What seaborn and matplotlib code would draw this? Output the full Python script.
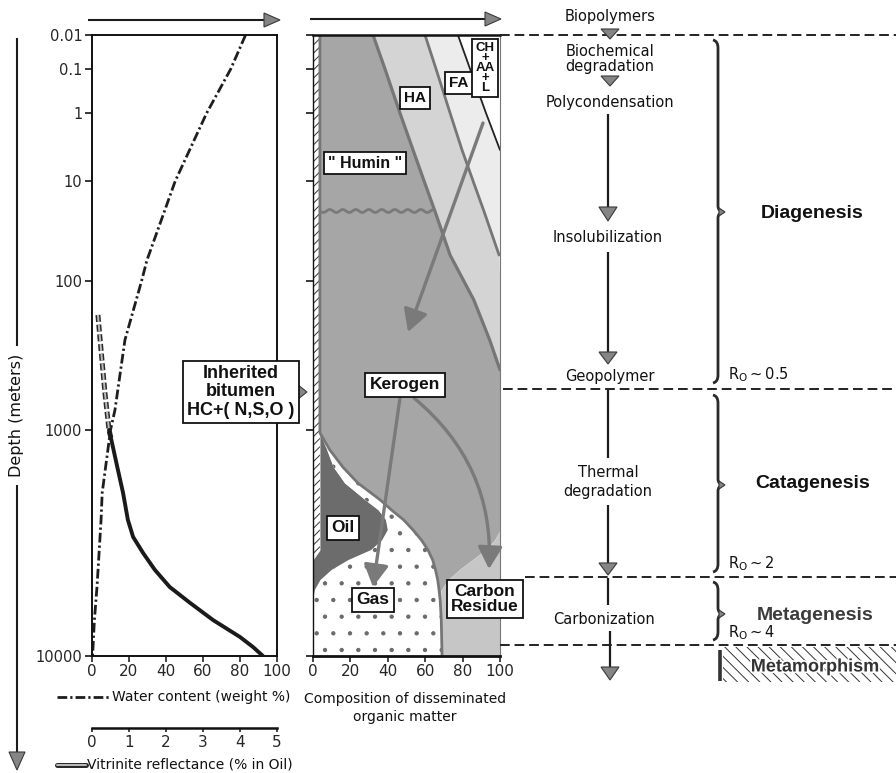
import numpy as np
import pandas as pd
import matplotlib
matplotlib.use("Agg")
import matplotlib.pyplot as plt
import seaborn as sns
from matplotlib.patches import FancyArrowPatch, Polygon, Rectangle, PathPatch
from matplotlib.path import Path
from matplotlib.ticker import FixedLocator, FixedFormatter, NullLocator
import matplotlib.patheffects as pe

# ---------------- data ----------------
depth_ticks = [0.01, 0.1, 1, 10, 100, 1000, 10000]
depth_tick_labels = ["0.01", "0.1", "1", "10", "100", "1000", "10000"]
# relative position of each decade on the figure's (non-logarithmic) depth axis
depth_axis_pos = [0, 34, 78, 146, 246, 395, 621]

water_depth = [0.01, 0.1, 1, 10, 62, 100, 249, 735, 1000, 1900, 2500, 4950, 6930, 10000]
water_content = [83, 75, 62, 45, 29.7, 26.8, 17.8, 12.4, 10, 5.5, 4.9, 2.7, 1.3, 0.3]

vitrinite_depth = [169, 249, 565, 1000, 1100, 1500, 1900, 2500, 2970, 3500, 4160, 4950,
                   5820, 6930, 8240, 9120, 10000]
vitrinite_ro = [0.16, 0.22, 0.35, 0.46, 0.52, 0.70, 0.84, 0.97, 1.11, 1.38, 1.70, 2.1,
                2.65, 3.27, 4.0, 4.35, 4.62]

comp_depth = [0.01, 0.1, 1, 3.5, 10, 20, 55, 134, 249, 395, 1030, 1225, 1460, 1717,
              2040, 2260, 2500, 2770, 3070, 3400, 3760, 4160, 4610, 5100, 5650, 6930, 10000]
bitumen = [3.7, 3.7, 3.7, 3.7, 3.7, 3.7, 3.7, 3.7, 3.7, 3.7, 3.7, 3.7, 3.7, 3.7,
           3.7, 3.7, 3.7, 3.7, 3.7, 3.7, 0, 0, 0, 0, 0, 0, 0]
oil = [0, 0, 0, 0, 0, 0, 0, 0, 0, 0, 0, 3.8, 7.3, 13.3,
       24.3, 31.3, 35.3, 36.3, 33.3, 27.3, 19, 10, 4, 1, 0, 0, 0]
gas = [0, 0, 0, 0, 0, 0, 0, 0, 0, 0, 0, 1.5, 5, 7,
       8, 7, 9.5, 13.5, 21, 30.5, 45, 55.5, 62.7, 66.4, 68, 68.6, 69]
humin_kerogen = [28.4, 34.8, 42.8, 49.8, 55.7, 61.5, 69.6, 82.3, 90.8, 96.3, 96.3, 91, 84, 76,
                 64, 58, 51.5, 46.5, 39, 30.5, 21, 12.5, 5.3, 1.1, 0, 0, 0]
carbon_residue = [0, 0, 0, 0, 0, 0, 0, 0, 0, 0, 0, 0, 0, 0,
                  0, 0, 0, 0, 3, 8, 15, 22, 28, 31.5, 32, 31.4, 31]
humic_acids = [27.8, 27.3, 26.8, 26.2, 26.2, 26.2, 26.2, 14, 5.5, 0, 0, 0, 0, 0,
               0, 0, 0, 0, 0, 0, 0, 0, 0, 0, 0, 0, 0]
fulvic_acids = [17.6, 18.2, 19.2, 20.3, 14.4, 8.6, 0.5, 0, 0, 0, 0, 0, 0, 0,
                0, 0, 0, 0, 0, 0, 0, 0, 0, 0, 0, 0, 0]
ch_aa_l = [22.5, 16, 7.5, 0, 0, 0, 0, 0, 0, 0, 0, 0, 0, 0,
           0, 0, 0, 0, 0, 0, 0, 0, 0, 0, 0, 0, 0]

stage_depth = [0.01, 530, 4470, 8940]

# ---------------- style ----------------
sns.set_theme(style="white")
plt.rcParams["font.family"] = ["DejaVu Sans"]
plt.rcParams["hatch.linewidth"] = 0.7
plt.rcParams["lines.scale_dashes"] = False
plt.rcParams["text.color"] = "#111111"
plt.rcParams["axes.edgecolor"] = "#111111"
BOLD = ["Liberation Sans", "DejaVu Sans"]
DK = "#1c1c1c"
GR = "#858585"

W, H = 896, 773
fig = plt.figure(figsize=(W / 100, H / 100), dpi=100)


def rect(x0, y0, x1, y1):
    return [x0 / W, 1 - y1 / H, (x1 - x0) / W, (y1 - y0) / H]


logs = np.arange(-3, 6)
pos_ext = np.concatenate([[depth_axis_pos[0] - (depth_axis_pos[1] - depth_axis_pos[0])],
                          depth_axis_pos,
                          [depth_axis_pos[-1] + (depth_axis_pos[-1] - depth_axis_pos[-2])]]).astype(float)


def fwd(d):
    d = np.clip(np.asarray(d, dtype=float), 1e-12, None)
    return np.interp(np.log10(d), logs, pos_ext)


def inv(p):
    return 10 ** np.interp(np.asarray(p, dtype=float), pos_ext, logs)


axL = fig.add_axes(rect(92, 35, 277, 656))
axM = fig.add_axes(rect(313, 35, 500, 656), sharey=axL)
axR = fig.add_axes(rect(500, 35, 896, 656), sharey=axL)
axL.set_yscale("function", functions=(fwd, inv))
axL.set_ylim(10000, 0.01)
axL.yaxis.set_major_locator(FixedLocator(depth_ticks))
axL.yaxis.set_major_formatter(FixedFormatter(depth_tick_labels))
axL.yaxis.set_minor_locator(NullLocator())

# ---------------- left panel: water content & vitrinite ----------------
sns.lineplot(x=water_content, y=water_depth, ax=axL, sort=False, estimator=None,
             color="#1e1e1e", linewidth=2.0, linestyle=(0, (7, 2.2, 1.6, 2.2)))
axL.set_xlim(0, 100)
axL.set_xticks([0, 20, 40, 60, 80, 100])
axL.tick_params(axis="x", bottom=True, direction="out", length=4, width=1.2, labelsize=11, pad=2)
axL.tick_params(axis="y", left=True, direction="out", length=5, width=1.3, labelsize=10.5, pad=2)
for s in axL.spines.values():
    s.set_linewidth(1.4)
    s.set_color("#111")
axL.set_xlabel("")
axL.set_ylabel("")

axV = axL.twiny()
vit = pd.DataFrame({"depth": vitrinite_depth, "ro": vitrinite_ro})
up = vit[vit["depth"] <= 1100]
low = vit[vit["depth"] >= 1000]
sns.lineplot(data=up, x="ro", y="depth", ax=axV, sort=False, estimator=None,
             color="#2a2a2a", linewidth=3.6, linestyle=(0, (5, 2)))
sns.lineplot(data=up, x="ro", y="depth", ax=axV, sort=False, estimator=None,
             color="#bdbdbd", linewidth=1.4, linestyle=(0, (5, 2)))
sns.lineplot(data=low, x="ro", y="depth", ax=axV, sort=False, estimator=None,
             color="#1a1a1a", linewidth=2.8)
axV.set_xlim(0, 5)
axV.set_xticks([0, 1, 2, 3, 4, 5])
axV.xaxis.set_ticks_position("bottom")
axV.xaxis.set_label_position("bottom")
axV.spines["bottom"].set_visible(True)
axV.spines["bottom"].set_position(("outward", 72 * 0.72))
axV.spines["bottom"].set_linewidth(1.8)
for s in ["top", "left", "right"]:
    axV.spines[s].set_visible(False)
axV.tick_params(axis="x", bottom=True, top=False, direction="out", length=3, width=1.2,
                labelsize=11, pad=2)
axV.set_xlabel("")
axV.set_ylabel("")

# ---------------- middle panel: composition ----------------
stack = np.vstack([bitumen, oil, gas, humin_kerogen, carbon_residue,
                   humic_acids, fulvic_acids, ch_aa_l])
cum = np.cumsum(stack, axis=0)
lefts = np.vstack([np.zeros(len(comp_depth)), cum[:-1]])
styles = [
    dict(facecolor="white", hatch="////", edgecolor="#333333"),
    dict(facecolor="#6c6c6c", edgecolor="#6c6c6c"),
    dict(facecolor="white", hatch=".", edgecolor="#6a6a6a"),
    dict(facecolor="#a6a6a6", edgecolor="#a6a6a6"),
    dict(facecolor="#c6c6c6", edgecolor="#c6c6c6"),
    dict(facecolor="#d4d4d4", edgecolor="#d4d4d4"),
    dict(facecolor="#ececec", edgecolor="#ececec"),
    dict(facecolor="white", edgecolor="white"),
]
for i, st in enumerate(styles):
    axM.fill_betweenx(comp_depth, lefts[i], cum[i], linewidth=0, **st)

axM.plot(cum[3][:10], comp_depth[:10], color="#767676", lw=2.3)
axM.plot(cum[5][:7], comp_depth[:7], color="#767676", lw=2.0)
axM.plot(cum[6][:4], comp_depth[:4], color="#222222", lw=1.3)
axM.plot(cum[2], comp_depth, color="#767676", lw=2.0)

axM.set_xlim(0, 100)
axM.set_xticks([0, 20, 40, 60, 80, 100])
axM.tick_params(axis="x", bottom=True, direction="out", length=4, width=1.2, labelsize=11, pad=2)
axM.tick_params(axis="y", left=True, labelleft=False, direction="out", length=5, width=1.3)
axM.spines["left"].set_linewidth(1.0)
axM.spines["top"].set_linewidth(1.8)
axM.spines["right"].set_linewidth(0.8)
axM.spines["right"].set_color("#777")
axM.spines["bottom"].set_linewidth(2.0)

# ---------------- right panel: stage boundaries ----------------
axR.set_xlim(0, 396)
axR.axis("off")
axR.hlines(stage_depth, [0, 3, 25, 0], 396, colors="#222", lw=1.4,
           linestyles=[(0, (7, 3.5))], clip_on=False)
axL.set_ylim(10000, 0.01)

# ---------------- annotation layer ----------------
deco = fig.add_axes([0, 0, 1, 1])
deco.set_xlim(0, W)
deco.set_ylim(H, 0)
deco.axis("off")


def tri(pts, fc=GR):
    deco.add_patch(Polygon(pts, closed=True, fc=fc, ec="#3a3a3a", lw=0.8, zorder=6))


def seg(x0, y0, x1, y1, lw=1.6, color=DK, **kw):
    deco.plot([x0, x1], [y0, y1], color=color, lw=lw, solid_capstyle="butt", **kw)


def box(x, y, s, size=12, ls=1.0):
    deco.text(x, y, s, ha="center", va="center", fontsize=size, fontweight="bold",
              family=BOLD, linespacing=ls, zorder=8,
              bbox=dict(boxstyle="square,pad=0.25", fc="white", ec="#111", lw=1.3))


def arrow(p0, p1, rad=0.0):
    deco.add_patch(FancyArrowPatch(p0, p1, arrowstyle="-|>,head_length=0.9,head_width=0.5",
                                   mutation_scale=15, color="#7a7a7a", lw=2.4,
                                   connectionstyle=f"arc3,rad={rad}", shrinkA=0, shrinkB=0,
                                   zorder=7))


def brace(x, y0, y1, ym):
    w = 5
    verts = [(x - w, y0), (x, y0 + 1), (x, y0 + 8),
             (x, ym - 6), (x, ym - 1), (x + 5, ym),
             (x, ym + 1), (x, ym + 6),
             (x, y1 - 8), (x, y1 - 1), (x - w, y1)]
    codes = [Path.MOVETO, Path.CURVE3, Path.CURVE3, Path.LINETO, Path.CURVE3, Path.CURVE3,
             Path.CURVE3, Path.CURVE3, Path.LINETO, Path.CURVE3, Path.CURVE3]
    deco.add_patch(PathPatch(Path(verts, codes), fc="none", ec="#2a2a2a", lw=2.0, zorder=6))
    tri([(x + 1, ym - 4), (x + 7, ym), (x + 1, ym + 4)])


# top arrows
seg(88, 20, 266, 20, lw=1.5)
tri([(264, 13), (280, 20), (264, 27)])
seg(310, 19, 487, 19, lw=1.5)
tri([(485, 12), (501, 19), (485, 26)])

# depth axis title
seg(17, 38, 17, 346, lw=1.5)
seg(17, 485, 17, 754, lw=1.5)
deco.text(17, 415, "Depth (meters)", rotation=90, ha="center", va="center", fontsize=11.5)
tri([(9, 752), (25, 752), (17, 770)])

# bottom legends / labels
deco.plot([57, 110], [697, 697], color="#1e1e1e", lw=2.0, linestyle=(0, (7, 2.2, 1.6, 2.2)))
deco.text(112, 697, "Water content (weight %)", ha="left", va="center", fontsize=10)
deco.plot([57, 86], [765, 765], color="#2a2a2a", lw=3.6)
deco.plot([57, 86], [765, 765], color="#bdbdbd", lw=1.4)
deco.text(87, 765, "Vitrinite reflectance (% in Oil)", ha="left", va="center", fontsize=10)
deco.text(405, 708, "Composition of disseminated\norganic matter", ha="center", va="center",
          fontsize=10, linespacing=1.3)

# inherited bitumen
box(241, 392, "Inherited\nbitumen\nHC+( N,S,O )", size=13, ls=1.1)
tri([(293, 381), (307, 392), (293, 403)])

# middle panel wavy line, arrows, labels
xs = np.linspace(320, 434, 300)
deco.plot(xs, 211 + 1.5 * np.sin((xs - 320) * 2 * np.pi / 13), color="#7a7a7a", lw=2.0)
arrow((483, 123), (408, 332))
arrow((400, 398), (373, 587))
arrow((414, 398), (489, 569), rad=-0.25)
box(415, 98, "HA", size=11)
box(459, 83, "FA", size=11)
box(485, 68, "CH\n+\nAA\n+\nL", size=9.5, ls=0.78)
box(365, 163, "\" Humin \"", size=11.5)
box(405, 385, "Kerogen", size=12.5)
box(343, 528, "Oil", size=12.5)
box(373, 600, "Gas", size=12.5)
box(485, 599, "Carbon\nResidue", size=12.5, ls=1.0)

# right panel: process column
FS = 10.5
deco.text(610, 16, "Biopolymers", ha="center", va="center", fontsize=FS)
tri([(601, 29), (619, 29), (610, 39)])
deco.text(610, 59, "Biochemical\ndegradation", ha="center", va="center", fontsize=FS, linespacing=1.05)
tri([(601, 76), (619, 76), (610, 86)])
deco.text(610, 102, "Polycondensation", ha="center", va="center", fontsize=FS)
seg(608, 114, 608, 208)
tri([(599, 207), (617, 207), (608, 221)])
deco.text(608, 237, "Insolubilization", ha="center", va="center", fontsize=FS)
seg(608, 252, 608, 352)
tri([(599, 352), (617, 352), (608, 364)])
deco.text(610, 376, "Geopolymer", ha="center", va="center", fontsize=FS)
seg(608, 390, 608, 458)
deco.text(608, 482, "Thermal\ndegradation", ha="center", va="center", fontsize=FS, linespacing=1.35)
seg(608, 505, 608, 563)
tri([(599, 563), (617, 563), (608, 575)])
seg(608, 578, 608, 605)
deco.text(604, 619, "Carbonization", ha="center", va="center", fontsize=FS)
seg(610, 631, 610, 668)
tri([(601, 667), (619, 667), (610, 680)])

# stage braces and labels
brace(718, 40, 383, 212)
brace(718, 395, 572, 485)
brace(718, 582, 640, 614)
seg(720, 650, 720, 681, lw=2.6, color="#333")
deco.add_patch(Rectangle((723, 647), 173, 35, fill=False, hatch="\\\\\\", edgecolor="#333", lw=0))

SF = 14
deco.text(812, 213, "Diagenesis", ha="center", va="center", fontsize=SF, fontweight="bold", family=BOLD)
deco.text(813, 484, "Catagenesis", ha="center", va="center", fontsize=SF, fontweight="bold", family=BOLD)
deco.text(815, 616, "Metagenesis", ha="center", va="center", fontsize=SF, fontweight="bold",
          family=BOLD, color="#3c3c3c")
deco.text(815, 667, "Metamorphism", ha="center", va="center", fontsize=13, fontweight="bold",
          family=BOLD, color="#333",
          path_effects=[pe.withStroke(linewidth=2.5, foreground="white")])
deco.text(728, 375, r"R$_{\mathregular{O}}$$\sim$0.5", ha="left", va="center", fontsize=FS)
deco.text(728, 564, r"R$_{\mathregular{O}}$$\sim$2", ha="left", va="center", fontsize=FS)
deco.text(728, 633, r"R$_{\mathregular{O}}$$\sim$4", ha="left", va="center", fontsize=FS)

fig.savefig("out.png", dpi=100)
